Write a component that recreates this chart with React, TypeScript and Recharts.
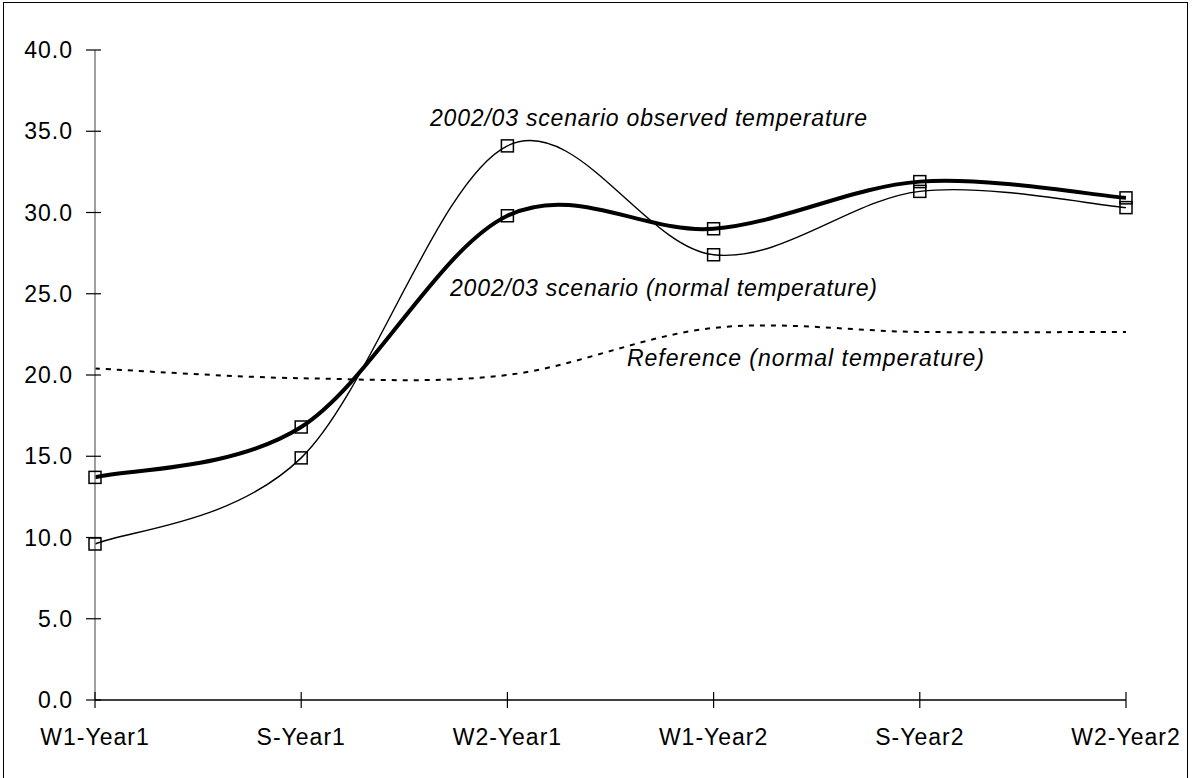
import { LineChart, Line, XAxis, YAxis } from 'recharts';

const categories = ['W1-Year1', 'S-Year1', 'W2-Year1', 'W1-Year2', 'S-Year2', 'W2-Year2'];
const scenarioNormal = [13.7, 16.8, 29.8, 29.0, 31.9, 30.9];
const scenarioObserved = [9.6, 14.9, 34.1, 27.4, 31.3, 30.3];
const referenceNormal = [20.4, 19.8, 20.0, 22.9, 22.65, 22.65];
const yTicks = [0, 5, 10, 15, 20, 25, 30, 35, 40];

const data = categories.map((period, i) => ({
  period,
  normal: scenarioNormal[i],
  observed: scenarioObserved[i],
  reference: referenceNormal[i],
}));

const W = 1192;
const H = 778;
const PLOT_LEFT = 95;
const PLOT_TOP = 50;
const PLOT_BOTTOM = 700;
const FONT = '"Liberation Sans", Arial, sans-serif';

// Excel-style smoothing (uniform Catmull-Rom as cubic Beziers)
const excelSmooth = (context: any) => {
  let pts: number[][] = [];
  return {
    areaStart() {},
    areaEnd() {},
    lineStart() {
      pts = [];
    },
    point(x: number, y: number) {
      pts.push([+x, +y]);
    },
    lineEnd() {
      if (!pts.length) return;
      context.moveTo(pts[0][0], pts[0][1]);
      for (let i = 0; i < pts.length - 1; i++) {
        const p0 = pts[i - 1] || pts[i];
        const p1 = pts[i];
        const p2 = pts[i + 1];
        const p3 = pts[i + 2] || pts[i + 1];
        context.bezierCurveTo(
          p1[0] + (p2[0] - p0[0]) / 6,
          p1[1] + (p2[1] - p0[1]) / 6,
          p2[0] - (p3[0] - p1[0]) / 6,
          p2[1] - (p3[1] - p1[1]) / 6,
          p2[0],
          p2[1],
        );
      }
    },
  };
};

const SquareDot = (props: any) => {
  const { cx, cy } = props;
  if (cx == null || cy == null) return null;
  return (
    <rect x={cx - 6} y={cy - 6} width={12} height={12} fill="none" stroke="#000" strokeWidth={1.5} />
  );
};

const YTick = ({ y, payload }: any) => (
  <g>
    <line x1={PLOT_LEFT - 9} x2={PLOT_LEFT + 6} y1={y} y2={y} stroke="#000" strokeWidth={1.2} />
    <text
      x={PLOT_LEFT - 22}
      y={y}
      textAnchor="end"
      dominantBaseline="central"
      fontFamily={FONT}
      fontSize={23}
      letterSpacing={1}
      fill="#000"
    >
      {Number(payload.value).toFixed(1)}
    </text>
  </g>
);

const XTick = ({ x, payload }: any) => (
  <g>
    <line x1={x} x2={x} y1={PLOT_BOTTOM - 8} y2={PLOT_BOTTOM + 8} stroke="#000" strokeWidth={1.2} />
    <text
      x={x}
      y={745}
      textAnchor="middle"
      fontFamily={FONT}
      fontSize={23}
      letterSpacing={1}
      fill="#000"
    >
      {payload.value}
    </text>
  </g>
);

const notes = [
  { text: '2002/03 scenario observed temperature', x: 430, y: 126, w: 437 },
  { text: '2002/03 scenario (normal temperature)', x: 450, y: 296, w: 427 },
  { text: 'Reference (normal temperature)', x: 627, y: 366, w: 357 },
];

export default function App() {
  return (
    <div style={{ position: 'absolute', left: 0, top: 0, width: W, height: H, background: '#fff', overflow: 'hidden' }}>
      <div
        style={{
          position: 'absolute',
          left: 3,
          top: 2,
          width: 1185,
          height: 800,
          border: '1.5px solid #000',
          boxSizing: 'border-box',
        }}
      />
      <div style={{ position: 'absolute', left: 0, top: 0 }}>
        <LineChart width={W} height={H} data={data} margin={{ top: PLOT_TOP, right: 66, bottom: 0, left: 0 }}>
          <XAxis
            dataKey="period"
            height={H - PLOT_BOTTOM}
            axisLine={{ stroke: '#000', strokeWidth: 1.5 }}
            tickLine={false}
            tick={<XTick />}
            interval={0}
          />
          <YAxis
            width={PLOT_LEFT}
            domain={[0, 40]}
            ticks={yTicks}
            axisLine={{ stroke: '#808080', strokeWidth: 1.5 }}
            tickLine={false}
            tick={<YTick />}
            interval={0}
          />
          <Line
            dataKey="reference"
            type={excelSmooth as any}
            stroke="#000"
            strokeWidth={2}
            strokeDasharray="5 6"
            dot={false}
            activeDot={false}
            isAnimationActive={false}
          />
          <Line
            dataKey="observed"
            type={excelSmooth as any}
            stroke="#000"
            strokeWidth={1.4}
            dot={<SquareDot />}
            activeDot={false}
            isAnimationActive={false}
          />
          <Line
            dataKey="normal"
            type={excelSmooth as any}
            stroke="#000"
            strokeWidth={4}
            dot={<SquareDot />}
            activeDot={false}
            isAnimationActive={false}
          />
        </LineChart>
      </div>
      <svg width={W} height={H} style={{ position: 'absolute', left: 0, top: 0, pointerEvents: 'none' }}>
        {notes.map((n) => (
          <text
            key={n.text}
            x={n.x}
            y={n.y}
            textLength={n.w}
            lengthAdjust="spacing"
            fontFamily={FONT}
            fontStyle="italic"
            fontSize={23}
            fill="#000"
          >
            {n.text}
          </text>
        ))}
      </svg>
    </div>
  );
}
